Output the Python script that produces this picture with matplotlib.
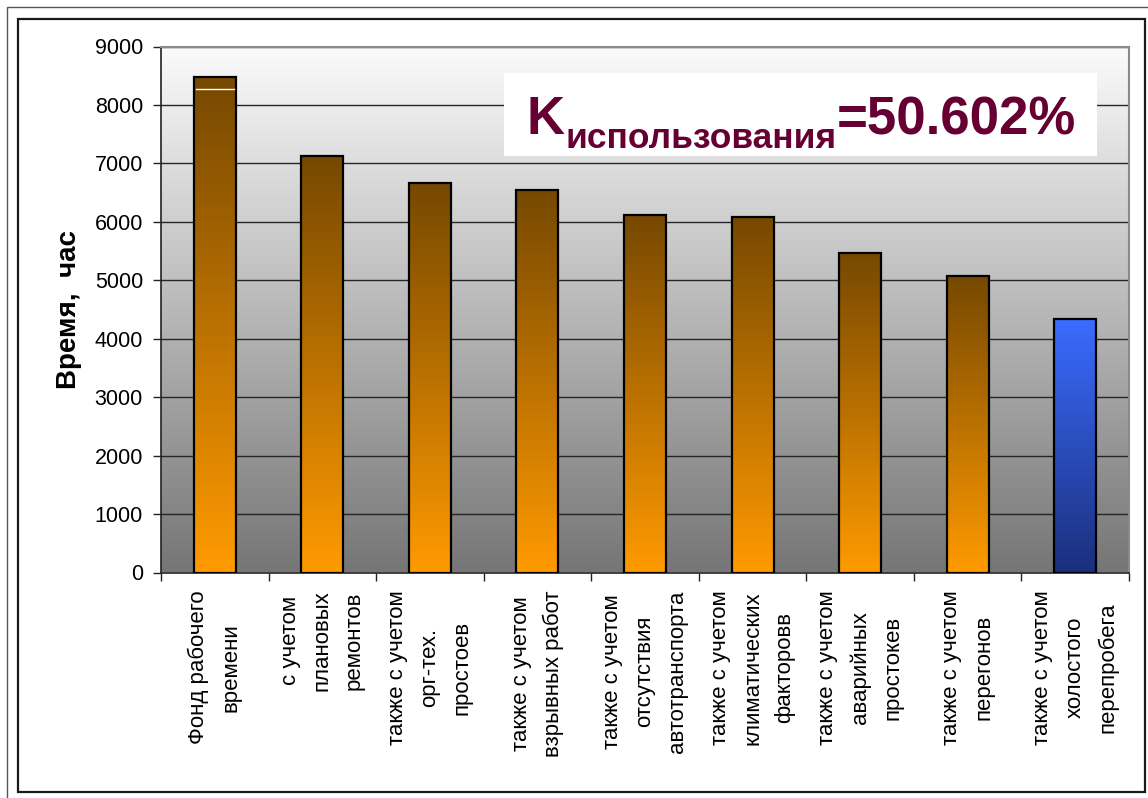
import numpy as np
import matplotlib
matplotlib.use("Agg")
import matplotlib.pyplot as plt
from matplotlib.patches import Rectangle
from matplotlib.colors import LinearSegmentedColormap

plt.rcParams['font.family'] = ['Liberation Sans', 'DejaVu Sans']

categories = [
    "Фонд рабочего\nвремени",
    "с учетом\nплановых\nремонтов",
    "также с учетом\nорг-тех.\nпростоев",
    "также с учетом\nвзрывных работ",
    "также с учетом\nотсутствия\nавтотранспорта",
    "также с учетом\nклиматических\nфакторовв",
    "также с учетом\nаварийных\nпростокев",
    "также с учетом\nперегонов",
    "также с учетом\nхолостого\nперепробега",
]
values = [8480, 7120, 6660, 6550, 6115, 6080, 5470, 5070, 4330]
marker_value = 8280  # white line inside the first bar
y_ticks = [0, 1000, 2000, 3000, 4000, 5000, 6000, 7000, 8000, 9000]
title_main = "K"
title_sub = "использования"
title_value = "=50.602%"

W, H = 1148, 798
fig = plt.figure(figsize=(W / 100, H / 100), dpi=100)
fig.patch.set_facecolor("white")

# frames
fig.add_artist(Rectangle((7 / W, -0.05), 1.2, 1 - 7 / H + 0.05, transform=fig.transFigure,
                         fill=False, edgecolor="#555555", lw=1.0))
fig.add_artist(Rectangle((18 / W, 1 - 792 / H), (1145 - 18) / W, (792 - 19) / H,
                         transform=fig.transFigure, fill=False, edgecolor="#1a1a1a", lw=1.6))

left, right, top, bottom = 161 / W, 1129 / W, 1 - 46.5 / H, 1 - 572.5 / H
ax = fig.add_axes([left, bottom, right - left, top - bottom])

n = len(categories)
x = np.arange(n)
ax.set_xlim(-0.5, n - 0.5)
ax.set_ylim(0, 9000)

# background gradient
bg_cmap = LinearSegmentedColormap.from_list("bg", ["#767676", "#fbfbfb"])
grad = np.linspace(0, 1, 256).reshape(-1, 1)
ax.imshow(grad, extent=(-0.5, n - 0.5, 0, 9000), origin="lower", aspect="auto",
          cmap=bg_cmap, zorder=0)

ax.set_yticks(y_ticks)
ax.yaxis.grid(True, color="#262626", lw=1.0, zorder=1)
ax.set_axisbelow(True)

orange_cmap = LinearSegmentedColormap.from_list("or", ["#ff9a00", "#764800"])
blue_cmap = LinearSegmentedColormap.from_list("bl", ["#1b2f7c", "#3a6cff"])

bw = 0.39
bars = ax.bar(x, values, width=bw, facecolor="none", edgecolor="black", lw=1.6, zorder=4)
for i, b in enumerate(bars):
    cmap = blue_cmap if i == n - 1 else orange_cmap
    xx = b.get_x()
    im = ax.imshow(grad, extent=(xx, xx + b.get_width(), 0, b.get_height()), origin="lower",
                   aspect="auto", cmap=cmap, zorder=3)
    im.set_clip_path(b)

ax.plot([x[0] - bw / 2 + 0.02, x[0] + bw / 2 - 0.02], [marker_value, marker_value],
        color="white", lw=1.0, zorder=5)

ax.set_xlim(-0.5, n - 0.5)
ax.set_ylim(0, 9000)

# ticks
ax.set_xticks(np.arange(n + 1) - 0.5, minor=False)
ax.set_xticklabels([])
ax.tick_params(axis="x", length=6, width=1, color="#222222", direction="out")
ax.tick_params(axis="y", length=6, width=1, color="#222222", direction="out",
               labelsize=15.5, pad=7)

for i, c in enumerate(categories):
    ax.text(x[i], -0.034, c, transform=ax.get_xaxis_transform(), rotation=90,
            ha="center", va="top", multialignment="center", fontsize=16,
            linespacing=1.7)

ax.set_ylabel("Время,  час", fontsize=20, fontweight="bold", labelpad=9)

for s in ["top", "right"]:
    ax.spines[s].set_color("#8a8a8a")
    ax.spines[s].set_linewidth(1.5)
for s in ["left", "bottom"]:
    ax.spines[s].set_color("#222222")
    ax.spines[s].set_linewidth(1.2)

# title box
fig.add_artist(Rectangle((504 / W, 1 - 156 / H), (1097 - 504) / W, (156 - 73) / H,
                         transform=fig.transFigure, facecolor="white", edgecolor="none",
                         zorder=5))
col = "#660033"
t1 = fig.text(526 / W, 1 - 134.5 / H, title_main, fontsize=38, fontweight="bold",
              color=col, ha="left", va="baseline", zorder=6)
fig.canvas.draw()
r = fig.canvas.get_renderer()
bb1 = t1.get_window_extent(r)
t2 = fig.text((bb1.x1 + 1) / W, 1 - 148.5 / H, title_sub, fontsize=25.5, fontweight="bold",
              color=col, ha="left", va="baseline", zorder=6)
bb2 = t2.get_window_extent(r)
fig.text((bb2.x1 + 1) / W, 1 - 134.5 / H, title_value, fontsize=38, fontweight="bold",
         color=col, ha="left", va="baseline", zorder=6)

fig.savefig("out.png", dpi=100)
